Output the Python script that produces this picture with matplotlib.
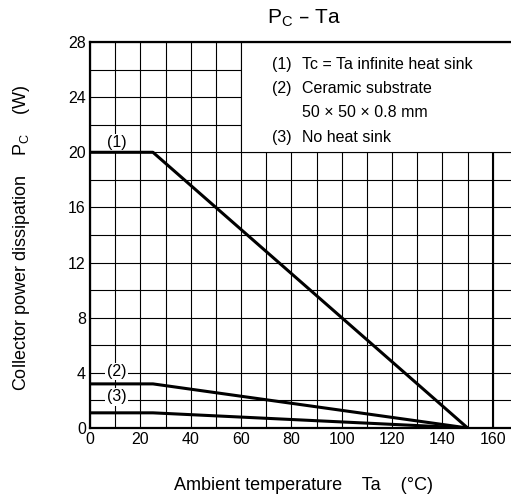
import matplotlib.pyplot as plt
from matplotlib.patches import Rectangle
from matplotlib.ticker import MultipleLocator

plt.rcParams['font.family'] = ['Liberation Sans', 'DejaVu Sans']

# curve data: ambient temp (C) vs collector dissipation (W)
ta = [0, 25, 150]
pc_inf = [20, 20, 0]
pc_cer = [3.2, 3.2, 0]
pc_none = [1.1, 1.1, 0]

curve_tags = ['(1)', '(2)', '(3)']
tag_x = [10.5, 10.5, 10.5]
tag_y = [20.7, 4.1, 2.25]

legend_nums = ['(1)', '(2)', '', '(3)']
legend_text = ['Tc = Ta infinite heat sink',
               'Ceramic substrate',
               '50 \u00d7 50 \u00d7 0.8 mm',
               'No heat sink']

fig = plt.figure(figsize=(5.11, 4.99), dpi=100)
ax = fig.add_axes([90 / 511, 71 / 499, 428 / 511, 386 / 499])

ax.set_xlim(0, 170)
ax.set_ylim(0, 28)
ax.xaxis.set_major_locator(MultipleLocator(20))
ax.xaxis.set_minor_locator(MultipleLocator(10))
ax.yaxis.set_major_locator(MultipleLocator(4))
ax.yaxis.set_minor_locator(MultipleLocator(2))
ax.set_xticks(range(0, 161, 20))
ax.grid(True, which='both', color='black', lw=0.8, zorder=1)
ax.set_axisbelow(True)
ax.axvline(160, color='black', lw=1.5, zorder=1)
ax.tick_params(which='both', length=0, labelsize=11.5, pad=3)
for s in ax.spines.values():
    s.set_linewidth(1.6)

# white legend panel blanks out the grid
ax.add_patch(Rectangle((60, 20), 120, 8, facecolor='white', edgecolor='black',
                       lw=0.8, zorder=1.5))
ly = [26.4, 24.6, 22.9, 21.1]
for n, t, y in zip(legend_nums, legend_text, ly):
    ax.text(72.3, y, n, fontsize=11.5, va='center', ha='left', zorder=3)
    ax.text(84.1, y, t, fontsize=11.5, va='center', ha='left', zorder=3)

for y in (pc_inf, pc_cer, pc_none):
    ax.plot(ta, y, color='black', lw=2.2, zorder=4, solid_capstyle='butt')

for t, x, y in zip(curve_tags, tag_x, tag_y):
    ax.text(x, y, t, fontsize=11.5, ha='center', va='center', zorder=3,
            bbox=dict(facecolor='white', edgecolor='none', pad=1))

fig.text(304 / 511, 1 - 18 / 499, r'P$_\mathregular{C}$ – Ta', fontsize=15,
         ha='center', va='center')
fig.text(304 / 511, 1 - 485 / 499, 'Ambient temperature    Ta    (\u00b0C)',
         fontsize=13, ha='center', va='center')
fig.text(22 / 511, 1 - 238 / 499,
         r'Collector power dissipation    P$_\mathregular{C}$    (W)',
         fontsize=13, ha='center', va='center', rotation=90)

fig.savefig('out.png', dpi=100)
